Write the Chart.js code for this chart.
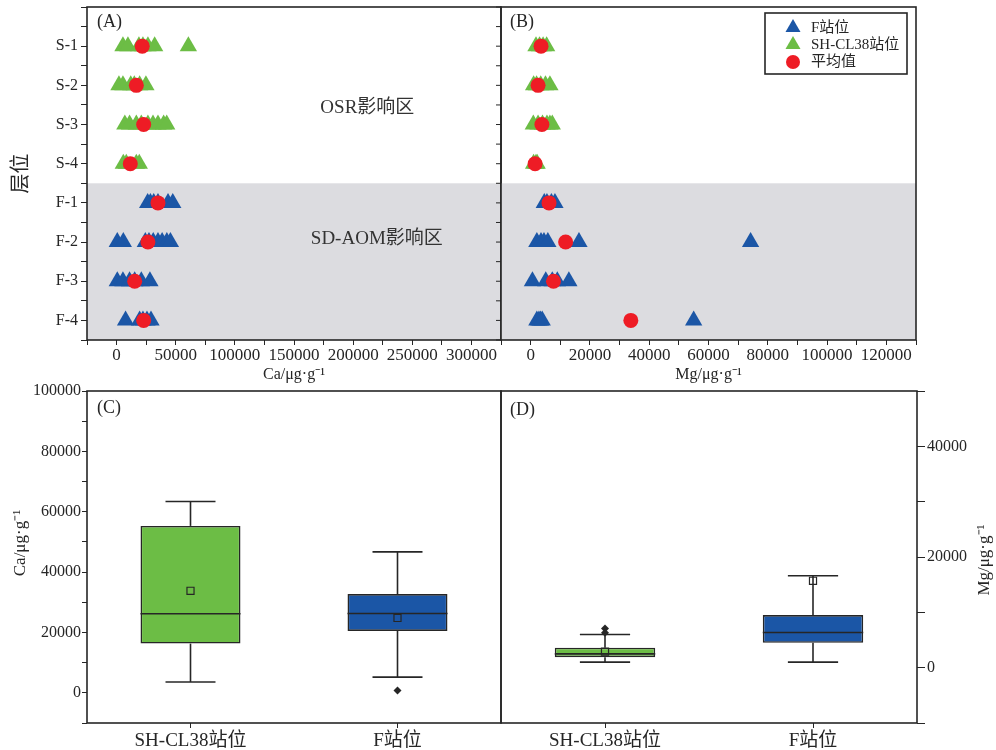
<!DOCTYPE html>
<html>
<head>
<meta charset="utf-8">
<script src="https://cdn.jsdelivr.net/npm/chart.js@4.4.1/dist/chart.umd.min.js"></script>
<style>
body { margin: 0; background: #fff; width: 996px; height: 750px; position: relative; overflow: hidden; }
canvas { position: absolute; }
</style>
</head>
<body>
<canvas id="ca" width="502" height="384" style="left:0;top:0"></canvas>
<canvas id="mg" width="496" height="384" style="left:500px;top:0"></canvas>
<canvas id="caBox" width="502" height="370" style="left:0;top:380px"></canvas>
<canvas id="mgBox" width="496" height="370" style="left:500px;top:380px"></canvas>
<script>
// layers (top panels)
const layers = ['S-1', 'S-2', 'S-3', 'S-4', 'F-1', 'F-2', 'F-3', 'F-4'];

// Ca, ug/g – SH-CL38 rows S-1..S-4, F rows F-1..F-4
const caSH = [
    [5400, 9600, 18900, 22300, 26500, 32200, 60700],
    [2000, 5400, 12000, 15000, 19500, 24800],
    [7000, 11000, 16700, 20900, 26500, 30800, 35000, 39800, 42400],
    [5700, 8200, 16700, 19200]
];
const caF = [
    [26300, 28600, 31400, 35000, 43500, 47500],
    [600, 5700, 24300, 27400, 31000, 35000, 38500, 42500, 45500],
    [600, 5400, 11000, 15300, 20900, 28200],
    [7600, 19500, 22300, 25700, 29100]
];
const caMeanRow = [21700, 16700, 22900, 11600, 35000, 26500, 15300, 22900];

// Mg, ug/g
const mgSH = [
    [1800, 3000, 4200, 5400],
    [1000, 2000, 3400, 5000, 6500],
    [900, 2500, 4000, 5500, 6500, 7300],
    [1000, 1800, 2200]
];
const mgF = [
    [4600, 5500, 7000, 8200],
    [2100, 3500, 4500, 5800, 16300, 74200],
    [600, 5100, 7300, 9000, 12900],
    [2100, 2800, 3300, 3900, 55000]
];
const mgMeanRow = [3500, 2500, 3800, 1500, 6200, 11800, 7700, 33800];

// box plots (bottom panels)
const boxLabels = ['SH-CL38站位', 'F站位'];
const caMin = [3600, 5200];
const caQ1 = [16300, 20500];
const caMed = [26200, 26300];
const caQ3 = [55300, 32700];
const caMax = [63400, 46700];
const caMean = [33800, 24800];
const caOut = [[], [800]];

const mgMin = [1000, 1000];
const mgQ1 = [1900, 4500];
const mgMed = [2500, 6350];
const mgQ3 = [3600, 9500];
const mgMax = [6000, 16600];
const mgMean = [2900, 15700];
const mgOut = [[7100, 6300], []];

const GREEN = '#6cbd45';
const BLUE = '#1b56a6';
const RED = '#ee1c25';
const INK = '#262626';
const SERIF = "'Liberation Serif', 'Noto Sans CJK SC', serif";

Chart.defaults.font.family = SERIF;
Chart.defaults.color = INK;

function rowPoints(rows, offset) {
    const pts = [];
    rows.forEach((vals, r) => vals.forEach(v => pts.push({ x: v, y: r + offset + 1 })));
    return pts;
}

function tickGrid(len) {
    return { display: true, drawOnChartArea: false, drawTicks: true, tickLength: len, tickColor: INK, tickWidth: 1, offset: false };
}

// frame, shading, texts drawn on top of the library's scales
function decor(draw, shade, innerTicks) {
    return {
        id: 'decor',
        beforeDatasetsDraw(chart) {
            if (!shade) return;
            const { ctx, chartArea: a, scales: { y } } = chart;
            const top = y.getPixelForValue(shade);
            ctx.save();
            ctx.fillStyle = '#dcdce0';
            ctx.fillRect(a.left, top, a.right - a.left, a.bottom - top);
            ctx.restore();
        },
        afterDraw(chart) {
            const { ctx, chartArea: a, scales: { y } } = chart;
            ctx.save();
            ctx.strokeStyle = INK;
            ctx.lineWidth = 1.6;
            ctx.strokeRect(a.left, a.top, a.right - a.left, a.bottom - a.top);
            if (innerTicks) {
                ctx.lineWidth = 1;
                y.ticks.forEach(t => {
                    const py = y.getPixelForValue(t.value);
                    ctx.beginPath();
                    ctx.moveTo(a.right, py);
                    ctx.lineTo(a.right - 5, py);
                    ctx.stroke();
                });
            }
            ctx.fillStyle = INK;
            ctx.textBaseline = 'middle';
            draw(chart, ctx, a);
            ctx.restore();
        }
    };
}

function boxExtras(stats) {
    return {
        id: 'boxExtras',
        afterDatasetDraw(chart, args) {
            if (args.index !== 0) return;
            const { ctx, scales: { y } } = chart;
            ctx.save();
            ctx.strokeStyle = INK;
            ctx.lineWidth = 1.6;
            const line = (x1, y1, x2, y2) => { ctx.beginPath(); ctx.moveTo(x1, y1); ctx.lineTo(x2, y2); ctx.stroke(); };
            args.meta.data.forEach((bar, i) => {
                const cx = bar.x, half = bar.width / 2;
                const yMax = y.getPixelForValue(stats.max[i]);
                const yMin = y.getPixelForValue(stats.min[i]);
                line(cx, y.getPixelForValue(stats.q3[i]), cx, yMax);
                line(cx, y.getPixelForValue(stats.q1[i]), cx, yMin);
                line(cx - half / 2, yMax, cx + half / 2, yMax);
                line(cx - half / 2, yMin, cx + half / 2, yMin);
                const yMed = y.getPixelForValue(stats.med[i]);
                line(cx - half, yMed, cx + half, yMed);
            });
            ctx.restore();
        }
    };
}

function scatterChart(id, sh, f, meanRow, xMin, xMax, xStep, showY, title, draw) {
    return new Chart(document.getElementById(id), {
        type: 'scatter',
        data: {
            datasets: [
                { label: '平均值', data: meanRow.map((v, i) => ({ x: v, y: i + 1 })), pointStyle: 'circle', pointRadius: 7.5, backgroundColor: RED, borderWidth: 0 },
                { label: 'F站位', data: rowPoints(f, 4), pointStyle: 'triangle', pointRadius: 10, backgroundColor: BLUE, borderWidth: 0 },
                { label: 'SH-CL38站位', data: rowPoints(sh, 0), pointStyle: 'triangle', pointRadius: 10, backgroundColor: GREEN, borderWidth: 0 }
            ]
        },
        options: {
            responsive: false,
            animation: false,
            layout: { autoPadding: false, padding: showY ? { top: 7, right: 1 } : { top: 7, left: 1, right: 80 } },
            plugins: { legend: { display: false }, tooltip: { enabled: false } },
            scales: {
                x: {
                    type: 'linear', min: xMin, max: xMax,
                    afterFit: s => { s.height = 44; s.paddingLeft = 0; s.paddingRight = 0; },
                    border: { display: false },
                    grid: tickGrid(5),
                    ticks: {
                        stepSize: xStep, autoSkip: false, maxRotation: 0, padding: 0,
                        font: { size: 17 },
                        callback: v => (v >= 0 && v % (xStep * 2) === 0) ? String(v) : ''
                    },
                    title: { display: true, text: title, font: { size: 16 }, padding: { top: 0, bottom: 0 } }
                },
                y: {
                    type: 'linear', min: 0, max: 8.5, reverse: true,
                    display: showY,
                    afterFit: s => { s.width = showY ? 87 : 0; s.paddingTop = 0; s.paddingBottom = 0; },
                    border: { display: false },
                    grid: tickGrid(6),
                    ticks: {
                        stepSize: 0.5, autoSkip: false, padding: 3,
                        font: { size: 16 },
                        callback: v => (Number.isInteger(v) && v >= 1) ? layers[v - 1] : ''
                    },
                    title: { display: true, text: '层位', font: { size: 20 }, padding: { top: 10, bottom: 0 } }
                }
            }
        },
        plugins: [decor(draw, 4.5, showY)]
    });
}

scatterChart('ca', caSH, caF, caMeanRow, -25000, 325000, 25000, true, 'Ca/μg·g⁻¹', (chart, ctx, a) => {
    const { x, y } = chart.scales;
    ctx.font = '18px ' + SERIF;
    ctx.textAlign = 'left';
    ctx.fillText('(A)', a.left + 10, a.top + 15);
    ctx.font = '19px ' + SERIF;
    ctx.textAlign = 'center';
    ctx.fillStyle = '#333';
    ctx.fillText('OSR影响区', x.getPixelForValue(212000), y.getPixelForValue(2.58));
    ctx.fillText('SD-AOM影响区', x.getPixelForValue(220000), y.getPixelForValue(5.92));
});

scatterChart('mg', mgSH, mgF, mgMeanRow, -10000, 130000, 10000, false, 'Mg/μg·g⁻¹', (chart, ctx, a) => {
    ctx.font = '18px ' + SERIF;
    ctx.textAlign = 'left';
    ctx.fillText('(B)', a.left + 9, a.top + 15);
    // legend
    const bx = a.right - 151, by = a.top + 6, bw = 142, bh = 61;
    ctx.fillStyle = '#fff';
    ctx.fillRect(bx, by, bw, bh);
    ctx.lineWidth = 1.6;
    ctx.strokeRect(bx, by, bw, bh);
    const items = [['F站位', BLUE, 'tri'], ['SH-CL38站位', GREEN, 'tri'], ['平均值', RED, 'dot']];
    items.forEach(([txt, col, kind], i) => {
        const my = by + 14 + i * 17, mx = bx + 28;
        ctx.fillStyle = col;
        ctx.beginPath();
        if (kind === 'tri') {
            ctx.moveTo(mx, my - 8);
            ctx.lineTo(mx + 7.5, my + 5);
            ctx.lineTo(mx - 7.5, my + 5);
            ctx.closePath();
        } else {
            ctx.arc(mx, my + 1, 7, 0, Math.PI * 2);
        }
        ctx.fill();
        ctx.fillStyle = INK;
        ctx.font = '15px ' + SERIF;
        ctx.fillText(txt, bx + 46, my + 1);
    });
});

function boxChart(id, stats, yMin, yMax, yPos, draw) {
    const left = yPos === 'left';
    return new Chart(document.getElementById(id), {
        type: 'bar',
        data: {
            labels: boxLabels,
            datasets: [
                {
                    data: stats.q1.map((q, i) => [q, stats.q3[i]]),
                    backgroundColor: [GREEN, BLUE], borderColor: INK, borderWidth: 1.6, borderSkipped: false,
                    categoryPercentage: 1, barPercentage: 0.483, order: 2
                },
                {
                    type: 'scatter', order: 1,
                    data: stats.mean.map((m, i) => ({ x: boxLabels[i], y: m })),
                    pointStyle: 'rect', pointRadius: 5, backgroundColor: 'rgba(0,0,0,0)', borderColor: INK, borderWidth: 1.2
                },
                {
                    type: 'scatter', order: 0,
                    data: stats.out.flatMap((vals, i) => vals.map(v => ({ x: boxLabels[i], y: v }))),
                    pointStyle: 'rectRot', pointRadius: 4, backgroundColor: INK, borderWidth: 0
                }
            ]
        },
        options: {
            responsive: false,
            animation: false,
            layout: { autoPadding: false, padding: left ? { top: 11, right: 1 } : { top: 11, left: 1 } },
            plugins: { legend: { display: false }, tooltip: { enabled: false } },
            scales: {
                x: {
                    type: 'category', offset: true,
                    afterFit: s => { s.height = 27; s.paddingLeft = 0; s.paddingRight = 0; },
                    border: { display: false },
                    grid: tickGrid(5),
                    ticks: { padding: 2, font: { size: 19 } }
                },
                y: {
                    type: 'linear', position: yPos, min: yMin, max: yMax,
                    afterFit: s => { s.width = left ? 87 : 79; s.paddingTop = 0; s.paddingBottom = 0; },
                    border: { display: false },
                    grid: tickGrid(left ? 5 : 8),
                    ticks: {
                        stepSize: 10000, autoSkip: false, padding: left ? 1 : 2,
                        font: { size: 16 },
                        callback: v => (v >= 0 && v % 20000 === 0) ? String(v) : ''
                    }
                }
            }
        },
        plugins: [boxExtras(stats), decor(draw, null, false)]
    });
}

function sideTitle(ctx, text, cx, cy) {
    ctx.save();
    ctx.translate(cx, cy);
    ctx.rotate(-Math.PI / 2);
    ctx.textAlign = 'center';
    ctx.font = '17px ' + SERIF;
    ctx.fillText(text, 0, 0);
    ctx.restore();
}

boxChart('caBox', { min: caMin, q1: caQ1, med: caMed, q3: caQ3, max: caMax, mean: caMean, out: caOut }, -10000, 100000, 'left', (chart, ctx, a) => {
    ctx.font = '18px ' + SERIF;
    ctx.textAlign = 'left';
    ctx.fillText('(C)', a.left + 10, a.top + 17);
    sideTitle(ctx, 'Ca/μg·g⁻¹', 21, 163);
});

boxChart('mgBox', { min: mgMin, q1: mgQ1, med: mgMed, q3: mgQ3, max: mgMax, mean: mgMean, out: mgOut }, -10000, 50000, 'right', (chart, ctx, a) => {
    ctx.font = '18px ' + SERIF;
    ctx.textAlign = 'left';
    ctx.fillText('(D)', a.left + 9, a.top + 19);
    sideTitle(ctx, 'Mg/μg·g⁻¹', 485, 180);
});
</script>
</body>
</html>
